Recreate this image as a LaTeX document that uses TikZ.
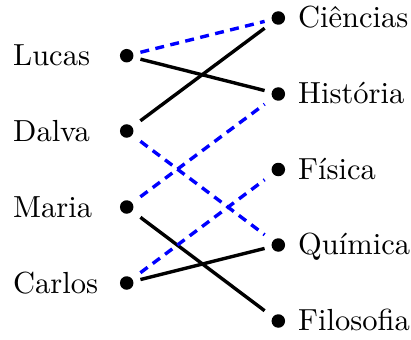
\documentclass[tikz,border=0pt]{standalone}
\begin{document}
\begin{tikzpicture}[x=1pt,y=-1pt,
  dot/.style={circle,fill=black,inner sep=0pt,minimum size=13.5pt},
  port/.style={rectangle,inner sep=0pt,minimum width=27pt,minimum height=40pt},
  lbl/.style={inner sep=0pt,font=\normalsize},
  solidedge/.style={line width=3.4pt,black},
  dashedge/.style={line width=3.4pt,blue,dash pattern=on 9pt off 6.4pt}]
\useasboundingbox (0,0) rectangle (411,339);
% left dots
\node[dot] (dL) at (126.7,55.7) {};
\node[dot] (dD) at (126.7,131) {};
\node[dot] (dM) at (126.7,207) {};
\node[dot] (dC) at (126.7,283) {};
% right dots
\node[dot] (dCi) at (278.3,18) {};
\node[dot] (dHi) at (278.3,94) {};
\node[dot] (dFi) at (278.3,169.5) {};
\node[dot] (dQu) at (278.3,245) {};
\node[dot] (dFo) at (278.3,321) {};
% ports
\node[port] (pL) at (dL) {};
\node[port] (pD) at (dD) {};
\node[port] (pM) at (dM) {};
\node[port] (pC) at (dC) {};
\node[port] (pCi) at (dCi) {};
\node[port] (pHi) at (dHi) {};
\node[port] (pFi) at (dFi) {};
\node[port] (pQu) at (dQu) {};
\node[port] (pFo) at (dFo) {};
% labels
\node[lbl,anchor=base west] (tL) at (13,66) {\scalebox{3.05}{Lucas}};
\node[lbl,anchor=base west] (tD) at (13,141) {\scalebox{3.05}{Dalva}};
\node[lbl,anchor=base west] (tM) at (13,217) {\scalebox{3.05}{Maria}};
\node[lbl,anchor=base west] (tC) at (13,293) {\scalebox{3.05}{Carlos}};
\node[lbl,anchor=base west] (tCi) at (298,27.5) {\scalebox{3.05}{Ciências}};
\node[lbl,anchor=base west] (tHi) at (298,103.5) {\scalebox{3.05}{História}};
\node[lbl,anchor=base west] (tFi) at (298,179) {\scalebox{3.05}{Física}};
\node[lbl,anchor=base west] (tQu) at (298,254.5) {\scalebox{3.05}{Química}};
\node[lbl,anchor=base west] (tFo) at (298,330.5) {\scalebox{3.05}{Filosofia}};
% edges
\draw[dashedge] (pL) -- (pCi);
\draw[solidedge] (pL) -- (pHi);
\draw[solidedge] (pD) -- (pCi);
\draw[dashedge] (pD) -- (pQu);
\draw[dashedge] (pM) -- (pHi);
\draw[solidedge] (pM) -- (pFo);
\draw[dashedge] (pC) -- (pFi);
\draw[solidedge] (pC) -- (pQu);
\end{tikzpicture}
\end{document}
